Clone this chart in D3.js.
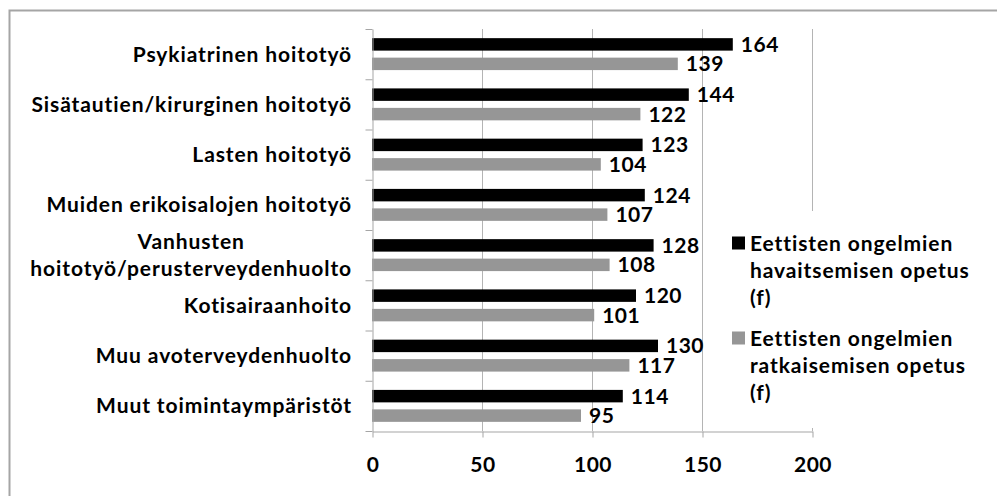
<!DOCTYPE html>
<html>
<head>
<meta charset="utf-8">
<script src="https://cdn.jsdelivr.net/npm/d3@7/dist/d3.min.js"></script>
<style>
  html, body { margin: 0; padding: 0; background: #fff; }
  svg { display: block; }
  text { font-family: Lato, "Open Sans", sans-serif; font-weight: 700; fill: #000; }
</style>
</head>
<body>
<svg id="chart" width="997" height="496"></svg>
<script>
// Nursing environments (top to bottom)
const categories = [
  "Psykiatrinen hoitotyö",
  "Sisätautien/kirurginen hoitotyö",
  "Lasten hoitotyö",
  "Muiden erikoisalojen hoitotyö",
  "Vanhusten\nhoitotyö/perusterveydenhuolto",
  "Kotisairaanhoito",
  "Muu avoterveydenhuolto",
  "Muut toimintaympäristöt"
];
// Teaching on recognising ethical problems (f)
const recognising = [164, 144, 123, 124, 128, 120, 130, 114];
// Teaching on solving ethical problems (f)
const solving = [139, 122, 104, 107, 108, 101, 117, 95];
const seriesNames = [
  "Eettisten ongelmien\nhavaitsemisen opetus\n(f)",
  "Eettisten ongelmien\nratkaisemisen opetus\n(f)"
];
const seriesColors = ["#000000", "#969696"];
const xTicks = [0, 50, 100, 150, 200];

const svg = d3.select("#chart");
const plot = { left: 372, right: 812, top: 29, bottom: 431 };
const fontSize = 21;
const spacing = "0.9px";

// Outer frame (the chart area border)
svg.append("path")
  .attr("d", "M9.5,497 L9.5,10.5 L998,10.5")
  .attr("fill", "none")
  .attr("stroke", "#a5a5a5")
  .attr("stroke-width", 2);

const x = d3.scaleLinear().domain([0, 200]).range([plot.left, plot.right]);
const y = d3.scaleBand().domain(categories).range([plot.top, plot.bottom]).padding(0);
const ySeries = d3.scaleBand().domain([0, 1]).range([0, y.bandwidth()])
  .paddingInner(0.36).paddingOuter(0.47);

// Vertical gridlines
svg.append("g")
  .selectAll("line")
  .data(xTicks.filter(d => d > 0))
  .join("line")
  .attr("x1", d => x(d) + 0.5).attr("x2", d => x(d) + 0.5)
  .attr("y1", plot.top).attr("y2", plot.bottom)
  .attr("stroke", "#b4b4b4").attr("stroke-width", 1);

// Bars
const rows = categories.map((c, i) => ({ c, vals: [recognising[i], solving[i]] }));
const groups = svg.append("g").selectAll("g")
  .data(rows).join("g")
  .attr("transform", d => `translate(0,${y(d.c)})`);

groups.selectAll("rect")
  .data(d => d.vals.map((v, s) => ({ v, s })))
  .join("rect")
  .attr("x", x(0))
  .attr("y", d => ySeries(d.s))
  .attr("width", d => x(d.v) - x(0))
  .attr("height", ySeries.bandwidth())
  .attr("fill", d => seriesColors[d.s]);

// Value labels
groups.selectAll("text.val")
  .data(d => d.vals.map((v, s) => ({ v, s })))
  .join("text")
  .attr("class", "val")
  .attr("x", d => x(d.v) + 8)
  .attr("y", d => ySeries(d.s) + ySeries.bandwidth() / 2)
  .attr("dy", "0.36em")
  .attr("font-size", fontSize)
  .attr("letter-spacing", "0.5px")
  .text(d => d.v);

// Legend box (white backing over the plot edge)
const legend = svg.append("g");
legend.append("rect")
  .attr("x", 722).attr("y", 211).attr("width", 268).attr("height", 217)
  .attr("fill", "#fff");

// Y axis with ticks at category boundaries
const yIdx = d3.scaleLinear().domain([0, categories.length]).range([plot.top, plot.bottom]);
const yAxis = svg.append("g")
  .attr("transform", `translate(${plot.left + 0.5},0)`)
  .call(d3.axisLeft(yIdx).tickValues(d3.range(categories.length + 1)).tickFormat("").tickSize(7).tickSizeOuter(0));
yAxis.select(".domain").attr("stroke", "#a5a5a5");
yAxis.selectAll(".tick line").attr("stroke", "#a5a5a5");

// X axis
const xAxis = svg.append("g")
  .attr("transform", `translate(0.5,${plot.bottom + 0.5})`)
  .call(d3.axisBottom(x).tickValues(xTicks).tickSize(6).tickSizeOuter(0).tickPadding(20));
xAxis.attr("font-family", null).attr("font-size", null);
xAxis.select(".domain").attr("stroke", "#a5a5a5");
xAxis.selectAll(".tick line").attr("stroke", "#a5a5a5");
xAxis.selectAll(".tick text")
  .attr("font-size", fontSize).attr("letter-spacing", "0.5px").attr("fill", "#000");

// Category labels
const labelRight = 352;
const lineGap = 27;
svg.append("g").selectAll("text")
  .data(categories)
  .join("text")
  .attr("font-size", fontSize)
  .attr("letter-spacing", spacing)
  .each(function (c) {
    const lines = c.split("\n");
    const t = d3.select(this);
    const cy = y(c) + y.bandwidth() / 2;
    lines.forEach((ln, k) => {
      t.append("tspan")
        .attr("y", cy + (k - (lines.length - 1) / 2) * lineGap)
        .attr("dy", "0.36em")
        .text(ln);
    });
    if (lines.length === 1) {
      t.attr("text-anchor", "end");
      t.selectAll("tspan").attr("x", labelRight);
    } else {
      let w = 0;
      t.selectAll("tspan").each(function () { w = Math.max(w, this.getComputedTextLength()); });
      t.attr("text-anchor", "middle");
      t.selectAll("tspan").attr("x", labelRight - w / 2);
    }
  });

// Legend entries
const legendTop = [243, 338];
seriesNames.forEach((name, s) => {
  legend.append("rect")
    .attr("x", 732).attr("y", legendTop[s] - 6.5)
    .attr("width", 13).attr("height", 13)
    .attr("fill", seriesColors[s]);
  const t = legend.append("text").attr("font-size", fontSize).attr("letter-spacing", spacing);
  name.split("\n").forEach((ln, k) => {
    t.append("tspan")
      .attr("x", 750)
      .attr("y", legendTop[s] + k * lineGap)
      .attr("dy", "0.36em")
      .text(ln);
  });
});
</script>
</body>
</html>
